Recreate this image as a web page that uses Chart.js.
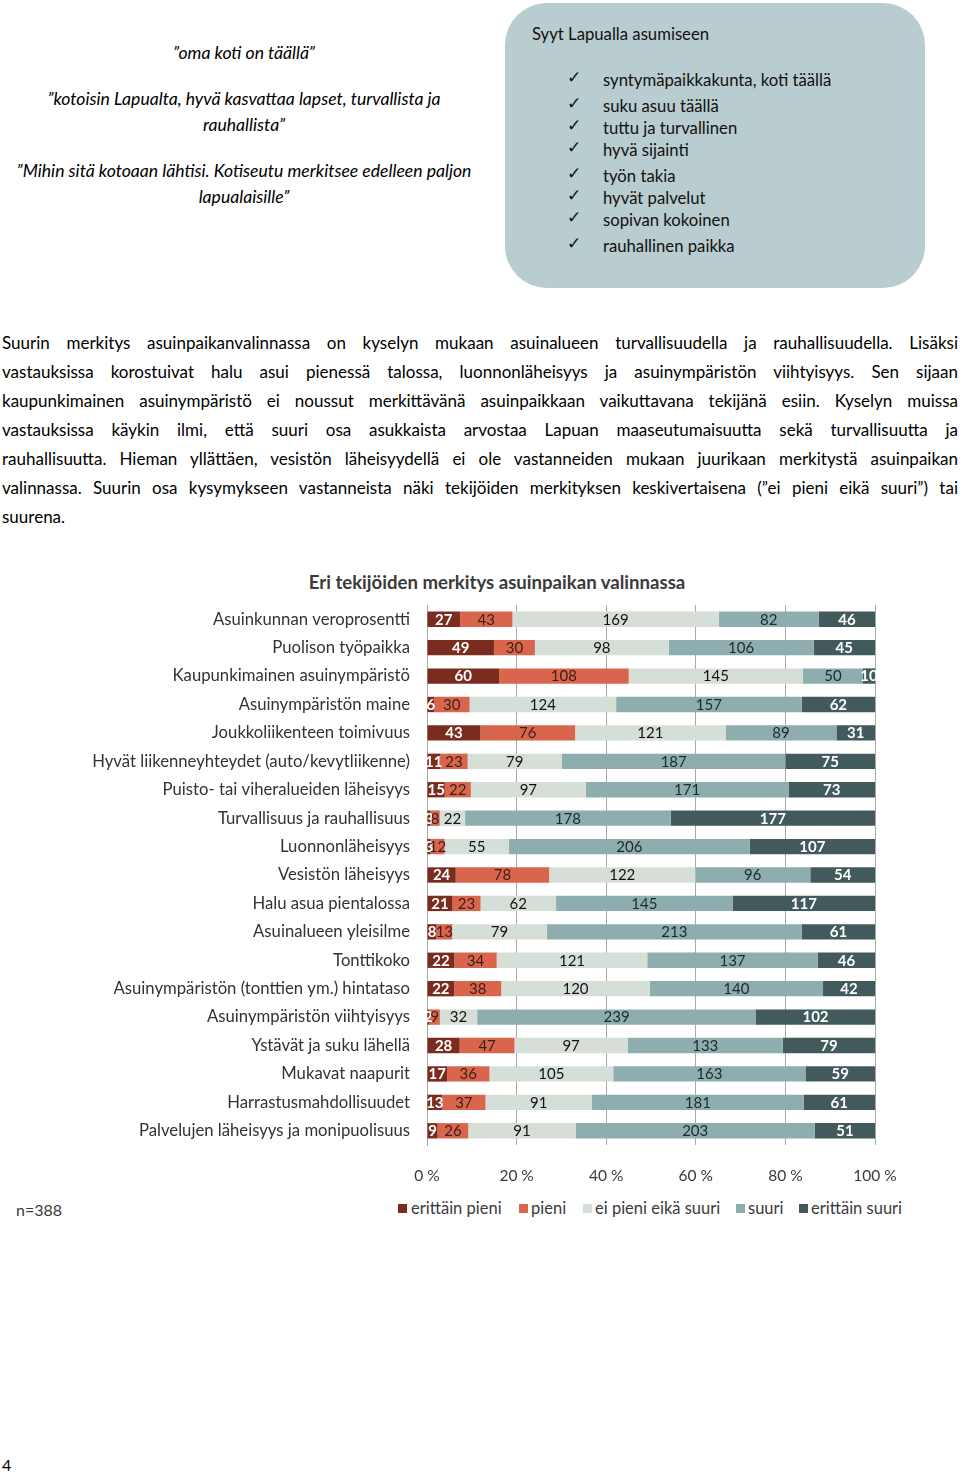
<!DOCTYPE html>
<html lang="fi">
<head>
<meta charset="utf-8">
<script src="https://cdn.jsdelivr.net/npm/chart.js@4.4.1/dist/chart.umd.min.js"></script>
<style>
  html, body { margin:0; padding:0; background:#fff; }
  body { width:960px; height:1475px; position:relative; overflow:hidden; font-family:Lato, "Open Sans", sans-serif; color:#000; }
  .abs { position:absolute; }
  .quote { left:0; width:488px; text-align:center; font-style:italic; font-size:17.6px; line-height:26px; }
  .box { left:505px; top:3px; width:420px; height:285px; border-radius:42px; background:#B9CCCF; }
  .boxtxt { font-size:16.7px; line-height:22px; color:#111; white-space:nowrap; }
  .chk { font-family:"DejaVu Sans", sans-serif; font-size:17px; line-height:22px; color:#111; }
  .para { left:2px; width:956px; font-size:17px; line-height:29px; top:328px; }
  .para div { text-align:justify; text-align-last:justify; white-space:nowrap; }
  .para div.last { text-align-last:left; }
  .ctitle { left:200px; width:594px; text-align:center; top:570px; font-weight:bold; font-size:18.6px; line-height:24px; color:#3a3a3a; }
  .lg { font-size:16.5px; line-height:20px; color:#3a3a3a; white-space:nowrap; top:1198px; }
  .sq { width:9px; height:9px; top:1204px; }
</style>
</head>
<body>
<div class="abs quote" style="top:40px">”oma koti on täällä”</div>
<div class="abs quote" style="top:86px">”kotoisin Lapualta, hyvä kasvattaa lapset, turvallista ja<br>rauhallista”</div>
<div class="abs quote" style="top:158px">”Mihin sitä kotoaan lähtisi. Kotiseutu merkitsee edelleen paljon<br>lapualaisille”</div>

<div class="abs box"></div>
<div class="abs boxtxt" style="left:532px; top:23px">Syyt Lapualla asumiseen</div>
<div id="reasons"></div>

<div class="abs para">
<div>Suurin merkitys asuinpaikanvalinnassa on kyselyn mukaan asuinalueen turvallisuudella ja rauhallisuudella. Lisäksi</div>
<div>vastauksissa korostuivat halu asui pienessä talossa, luonnonläheisyys ja asuinympäristön viihtyisyys. Sen sijaan</div>
<div>kaupunkimainen asuinympäristö ei noussut merkittävänä asuinpaikkaan vaikuttavana tekijänä esiin. Kyselyn muissa</div>
<div>vastauksissa käykin ilmi, että suuri osa asukkaista arvostaa Lapuan maaseutumaisuutta sekä turvallisuutta ja</div>
<div>rauhallisuutta. Hieman yllättäen, vesistön läheisyydellä ei ole vastanneiden mukaan juurikaan merkitystä asuinpaikan</div>
<div>valinnassa. Suurin osa kysymykseen vastanneista näki tekijöiden merkityksen keskivertaisena (”ei pieni eikä suuri”) tai</div>
<div class="last">suurena.</div>
</div>

<div class="abs ctitle">Eri tekijöiden merkitys asuinpaikan valinnassa</div>
<canvas id="c" class="abs" width="960" height="600" style="left:0; top:595px; width:960px; height:600px;"></canvas>
<div id="legend"></div>
<div class="abs" style="left:16px; top:1200px; font-size:16px; line-height:20px; color:#3a3a3a;">n=388</div>
<div class="abs" style="left:2px; top:1455px; font-size:16px; line-height:20px;">4</div>

<script>
// ---- Data ----
const reasons = ["syntymäpaikkakunta, koti täällä", "suku asuu täällä", "tuttu ja turvallinen", "hyvä sijainti",
  "työn takia", "hyvät palvelut", "sopivan kokoinen", "rauhallinen paikka"];

const categories = [
  "Asuinkunnan veroprosentti",
  "Puolison työpaikka",
  "Kaupunkimainen asuinympäristö",
  "Asuinympäristön maine",
  "Joukkoliikenteen toimivuus",
  "Hyvät liikenneyhteydet (auto/kevytliikenne)",
  "Puisto- tai viheralueiden läheisyys",
  "Turvallisuus ja rauhallisuus",
  "Luonnonläheisyys",
  "Vesistön läheisyys",
  "Halu asua pientalossa",
  "Asuinalueen yleisilme",
  "Tonttikoko",
  "Asuinympäristön (tonttien ym.) hintataso",
  "Asuinympäristön viihtyisyys",
  "Ystävät ja suku lähellä",
  "Mukavat naapurit",
  "Harrastusmahdollisuudet",
  "Palvelujen läheisyys ja monipuolisuus"
];
const erittainPieni    = [27, 49, 60,   6, 43, 11, 15,   3,   3, 24, 21,   8, 22, 22,   2, 28, 17, 13,   9];
const pieni            = [43, 30, 108, 30, 76, 23, 22,   8,  12, 78, 23,  13, 34, 38,   9, 47, 36, 37,  26];
const eiPieniEikaSuuri = [169, 98, 145, 124, 121, 79, 97, 22, 55, 122, 62, 79, 121, 120, 32, 97, 105, 91, 91];
const suuri            = [82, 106, 50, 157, 89, 187, 171, 178, 206, 96, 145, 213, 137, 140, 239, 133, 163, 181, 203];
const erittainSuuri    = [46, 45, 10,  62, 31, 75, 73, 177, 107, 54, 117, 61, 46, 42, 102, 79, 59, 61, 51];
const seriesNames = ["erittäin pieni", "pieni", "ei pieni eikä suuri", "suuri", "erittäin suuri"];
const xTickLabels = ["0 %", "20 %", "40 %", "60 %", "80 %", "100 %"];

// ---- Styles ----
const colors = ["#7A2C1F", "#D9664C", "#D6DFD7", "#8EADAF", "#435A5D"];
const labelColors = ["#ffffff", "#3a1f1a", "#111111", "#1c2a2c", "#ffffff"];
const labelWeights = ["bold", "normal", "normal", "normal", "bold"];

// reasons list
const reasonY = [80, 106, 128, 150, 176, 198, 220, 246];
const rl = document.getElementById('reasons');
reasons.forEach((r, i) => {
  const c = document.createElement('div');
  c.className = 'abs chk'; c.style.left = '567px'; c.style.top = (reasonY[i] - 14) + 'px'; c.textContent = '✓';
  rl.appendChild(c);
  const t = document.createElement('div');
  t.className = 'abs boxtxt'; t.style.left = '603px'; t.style.top = (reasonY[i] - 11) + 'px'; t.textContent = r;
  rl.appendChild(t);
});

// legend
const lgSq = [398, 519, 583, 736, 799], lgTx = [411, 531, 595, 748, 811];
const lg = document.getElementById('legend');
seriesNames.forEach((n, i) => {
  const s = document.createElement('div');
  s.className = 'abs sq'; s.style.left = lgSq[i] + 'px'; s.style.background = colors[i];
  lg.appendChild(s);
  const t = document.createElement('div');
  t.className = 'abs lg'; t.style.left = lgTx[i] + 'px'; t.textContent = n;
  lg.appendChild(t);
});

// ---- Chart ----
const raw = [erittainPieni, pieni, eiPieniEikaSuuri, suuri, erittainSuuri];
const totals = categories.map((_, i) => raw.reduce((s, a) => s + a[i], 0));
const datasets = raw.map((arr, k) => ({
  label: seriesNames[k],
  data: arr.map((v, i) => v / totals[i] * 100),
  counts: arr,
  backgroundColor: colors[k],
  borderWidth: 0,
  barPercentage: 0.54,
  categoryPercentage: 1.0
}));

const valueLabels = {
  id: 'valueLabels',
  afterDatasetsDraw(chart) {
    const ctx = chart.ctx;
    ctx.save();
    chart.data.datasets.forEach((ds, k) => {
      const meta = chart.getDatasetMeta(k);
      meta.data.forEach((el, i) => {
        const cx = (el.x + el.base) / 2;
        ctx.font = labelWeights[k] + ' 15px Lato, sans-serif';
        ctx.fillStyle = labelColors[k];
        ctx.textAlign = 'center';
        ctx.textBaseline = 'middle';
        ctx.fillText(String(ds.counts[i]), cx, el.y + 0.5);
      });
    });
    ctx.restore();
  }
};

Chart.defaults.font.family = 'Lato, sans-serif';
new Chart(document.getElementById('c'), {
  type: 'bar',
  data: { labels: categories, datasets },
  options: {
    indexAxis: 'y',
    responsive: false,
    animation: false,
    devicePixelRatio: 1,
    layout: { padding: { top: 10, right: 85, left: 0, bottom: 0 } },
    plugins: { legend: { display: false }, tooltip: { enabled: false }, title: { display: false } },
    scales: {
      x: {
        stacked: true, min: 0, max: 100,
        ticks: { stepSize: 20, padding: 22, color: '#3a3a3a', font: { size: 15.5 },
                 callback: (v, i) => xTickLabels[i] },
        grid: { color: '#A8A8A8', lineWidth: 1, drawTicks: false },
        border: { display: false },
        afterFit: s => { s.height = 50; s.paddingLeft = 0; s.paddingRight = 0; }
      },
      y: {
        stacked: true,
        ticks: { padding: 17, color: '#333333', font: { size: 16.7 }, autoSkip: false },
        grid: { display: false, drawTicks: false },
        border: { display: true, color: '#A8A8A8' },
        afterFit: s => { s.width = 427; s.paddingTop = 0; s.paddingBottom = 0; }
      }
    }
  },
  plugins: [valueLabels]
});
</script>
</body>
</html>
